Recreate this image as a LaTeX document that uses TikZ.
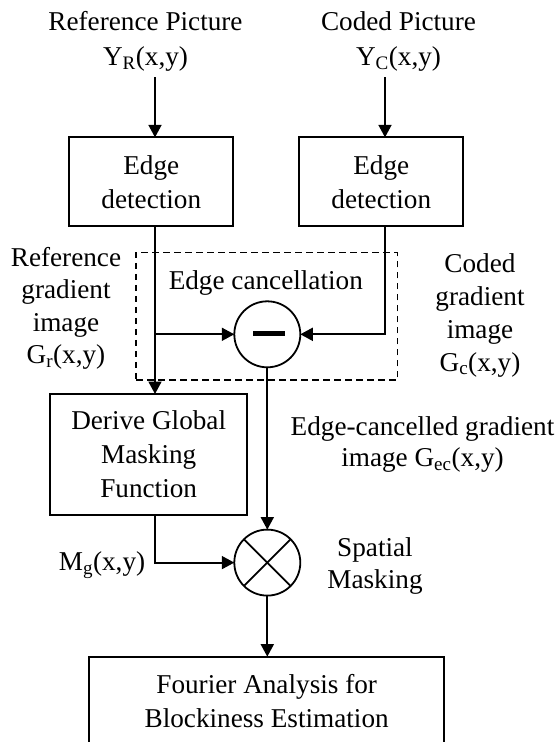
\documentclass[tikz,border=0pt]{standalone}
\usepackage{fontspec}
\setmainfont{Liberation Serif}
\usetikzlibrary{arrows.meta}

\begin{document}
\begin{tikzpicture}[x=1pt, y=-1pt,
  every node/.style={inner sep=0pt, outer sep=0pt, font=\fontsize{27.2}{34}\selectfont},
  block/.style={draw, line width=1.8pt, align=center},
  txt/.style={align=center},
  flow/.style={line width=1.8pt, -{Triangle[length=12.5pt, width=13pt]}},
  junction/.style={draw, circle, line width=1.8pt, minimum size=66pt},
  groupbox/.style={draw, line width=1.5pt, dash pattern=on 6.7pt off 4.3pt},
  cross/.style={line width=1.8pt}
]
\useasboundingbox (0,0) rectangle (557,742);
\fill[white] (0,0) rectangle (557,742);

% input labels
\node[txt, font=\fontsize{27.2}{34.3}\selectfont] (inRlbl) at (145.5,41.5)
  {Reference Picture\\Y\textsubscript{R}(x,y)};
\node[txt, font=\fontsize{27.2}{34.3}\selectfont] (inClbl) at (398.5,41.5)
  {Coded Picture\\Y\textsubscript{C}(x,y)};

% edge detection blocks
\node[block, minimum width=164pt, minimum height=88.7pt] (edgeR) at (151.3,181.7) {Edge\\detection};
\node[block, minimum width=164pt, minimum height=88.7pt] (edgeC) at (381.3,181.7) {Edge\\detection};

% edge cancellation group
\node[groupbox, minimum width=261.3pt, minimum height=127.3pt] (cancelgroup) at (266.7,316.3) {};
\node[anchor=base] (cancellbl) at (265.8,289.3) {Edge cancellation};
\node[junction] (sub) at (267.3,334.3) {};
\node[fill, minimum width=32pt, minimum height=5.3pt] (minusbar) at (268.5,333.3) {};

% gradient labels
\node[txt, font=\fontsize{27.2}{32.4}\selectfont] (grlbl) at (66,308.3)
  {Reference\\gradient\\image\\G\textsubscript{r}(x,y)};
\node[txt, font=\fontsize{27.2}{32.8}\selectfont] (gclbl) at (480,315.5)
  {Coded\\gradient\\image\\G\textsubscript{c}(x,y)};
\node[txt, font=\fontsize{27.2}{31.7}\selectfont] (eclbl) at (422.5,444.5)
  {Edge-cancelled gradient\\image G\textsubscript{ec}(x,y)};

% global masking
\node[block, minimum width=197.3pt, minimum height=121pt] (derive) at (148.7,454.5)
  {Derive Global\\Masking\\Function};
\node[anchor=base] (mglbl) at (102,570.7) {M\textsubscript{g}(x,y)};

% spatial masking multiplier
\node[junction] (mul) at (267.3,562.6) {};
\draw[cross] (mul.north west) -- (mul.south east);
\draw[cross] (mul.north east) -- (mul.south west);
\node[txt, font=\fontsize{27.2}{32.3}\selectfont] (smlbl) at (375,565.8) {Spatial\\Masking};

% output block
\node[block, minimum width=354.7pt, minimum height=88.7pt] (fourier) at (266.7,701)
  {Fourier Analysis for\\Blockiness Estimation};

% connectors
\coordinate (tapR) at (155,77);
\coordinate (tapC) at (385,77);
\draw[flow] (tapR) -- (tapR |- edgeR.north);
\draw[flow] (tapC) -- (tapC |- edgeC.north);
\draw[flow] (tapR |- edgeR.south) -- (tapR |- derive.north);
\draw[flow] (tapR |- sub.west) -- (sub.west);
\draw[flow] (tapC |- edgeC.south) -- (tapC |- sub.east) -- (sub.east);
\draw[flow] (sub.south) -- (mul.north);
\draw[flow] (tapR |- derive.south) -- (tapR |- mul.west) -- (mul.west);
\draw[flow] (mul.south) -- (mul.south |- fourier.north);
\end{tikzpicture}
\end{document}
